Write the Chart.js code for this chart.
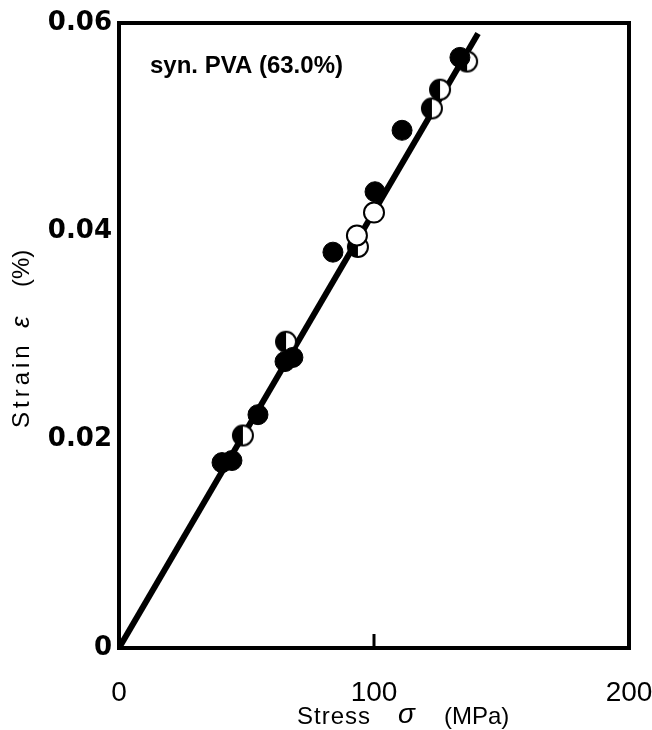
<!DOCTYPE html>
<html>
<head>
<meta charset="utf-8">
<script src="https://cdn.jsdelivr.net/npm/chart.js@4/dist/chart.umd.min.js"></script>
<style>
  html, body { margin: 0; padding: 0; background: #fff; }
  #wrap { width: 652px; height: 730px; }
</style>
</head>
<body>
<div id="wrap"><canvas id="chart" width="652" height="730"></canvas></div>
<script>
// Stress (MPa) / strain values
const filledStress = [40.4, 44.3, 54.5, 65.1, 68.2, 83.9, 100.4, 111.0, 133.7];
const filledStrain = [0.0178, 0.0180, 0.0224, 0.0275, 0.0279, 0.0380, 0.0438, 0.0497, 0.0567];

const openStress = [100.0, 93.3];
const openStrain = [0.0418, 0.0396];

const halfStress = [48.6, 65.5, 93.7, 122.7, 125.9, 136.5];
const halfStrain = [0.0204, 0.0294, 0.0385, 0.0518, 0.0536, 0.0563];

const fitStress = [0, 140.8];
const fitStrain = [0, 0.0590];

const xTicks = [0, 100, 200];
const yTicks = [0, 0.02, 0.04, 0.06];

const toPoints = (xs, ys) => xs.map((x, i) => ({ x: x, y: ys[i] }));

// half-filled circle marker (left half black)
function halfMarker(r) {
    const c = document.createElement('canvas');
    const s = r * 2 + 4;
    c.width = s; c.height = s;
    const g = c.getContext('2d');
    const m = s / 2;
    g.fillStyle = '#fff';
    g.beginPath(); g.arc(m, m, r, 0, Math.PI * 2); g.fill();
    g.fillStyle = '#000';
    g.beginPath(); g.arc(m, m, r, Math.PI / 2, Math.PI * 1.5); g.closePath(); g.fill();
    g.strokeStyle = '#000'; g.lineWidth = 2;
    g.beginPath(); g.arc(m, m, r, 0, Math.PI * 2); g.stroke();
    return c;
}

const FONT = '"Liberation Sans", Arial, sans-serif';

const framePlugin = {
    id: 'frame',
    afterDraw(chart) {
        const { ctx, chartArea: a, scales } = chart;
        ctx.save();
        ctx.strokeStyle = '#000';
        ctx.lineWidth = 4;
        ctx.strokeRect(a.left, a.top, a.right - a.left, a.bottom - a.top);
        // inner tick at 100 MPa
        const x100 = scales.x.getPixelForValue(100);
        ctx.lineWidth = 3;
        ctx.beginPath(); ctx.moveTo(x100, a.bottom); ctx.lineTo(x100, a.bottom - 14); ctx.stroke();
        // label in the corner
        ctx.fillStyle = '#000';
        ctx.font = 'bold 24px ' + FONT;
        ctx.textBaseline = 'middle';
        ctx.textAlign = 'left';
        ctx.fillText('syn. PVA (63.0%)', 150, 66);

        // x axis title, spaced like the original
        ctx.font = '24px ' + FONT;
        ctx.letterSpacing = '1px';
        ctx.fillText('Stress', 297, 717);
        ctx.font = 'italic 28px ' + FONT;
        ctx.letterSpacing = '0px';
        ctx.fillText('σ', 398, 715);
        ctx.font = '24px ' + FONT;
        ctx.fillText('(MPa)', 444, 717);

        // y axis title
        ctx.translate(22, 0);
        ctx.rotate(-Math.PI / 2);
        ctx.font = '24px ' + FONT;
        ctx.letterSpacing = '4px';
        ctx.fillText('Strain', -428, 0);
        ctx.letterSpacing = '0px';
        ctx.font = 'italic 26px ' + FONT;
        ctx.fillText('ε', -328, 0);
        ctx.font = '24px ' + FONT;
        ctx.fillText('(%)', -287, 0);
        ctx.restore();
    }
};

new Chart(document.getElementById('chart').getContext('2d'), {
    type: 'scatter',
    data: {
        datasets: [
            {
                label: 'filled',
                data: toPoints(filledStress, filledStrain),
                pointStyle: 'circle',
                pointRadius: 10,
                backgroundColor: '#000',
                borderColor: '#000',
                borderWidth: 1,
                order: 1
            },
            {
                label: 'open',
                data: toPoints(openStress, openStrain),
                pointStyle: 'circle',
                pointRadius: 10,
                backgroundColor: '#fff',
                borderColor: '#000',
                borderWidth: 2,
                order: 1
            },
            {
                label: 'half',
                data: toPoints(halfStress, halfStrain),
                pointStyle: halfMarker(10),
                pointRadius: 10,
                order: 1
            },
            {
                type: 'line',
                label: 'fit',
                data: toPoints(fitStress, fitStrain),
                borderColor: '#000',
                borderWidth: 6,
                pointRadius: 0,
                fill: false,
                order: 2
            }
        ]
    },
    options: {
        responsive: false,
        animation: false,
        layout: { padding: { top: 23, right: 23, left: 0, bottom: 0 } },
        plugins: { legend: { display: false }, tooltip: { enabled: false } },
        scales: {
            x: {
                type: 'linear',
                min: 0, max: 200,
                afterBuildTicks: s => { s.ticks = xTicks.map(v => ({ value: v })); },
                afterFit: s => { s.height = 82; s.paddingLeft = 0; s.paddingRight = 0; },
                grid: { display: false, drawTicks: false },
                border: { display: false },
                ticks: {
                    color: '#000',
                    padding: 28,
                    maxRotation: 0,
                    font: { family: FONT, size: 28 }
                },
                title: { display: false }
            },
            y: {
                type: 'linear',
                min: 0, max: 0.06,
                afterBuildTicks: s => { s.ticks = yTicks.map(v => ({ value: v })); },
                afterFit: s => { s.width = 119; s.paddingTop = 0; s.paddingBottom = 0; },
                grid: { display: false, drawTicks: false },
                border: { display: false },
                ticks: {
                    color: '#000',
                    padding: 7,
                    font: { family: '"DejaVu Sans", sans-serif', size: 26, weight: 'bold' },
                    callback: v => v === 0 ? '0' : v.toFixed(2)
                },
                title: { display: false }
            }
        }
    },
    plugins: [framePlugin]
});
</script>
</body>
</html>
